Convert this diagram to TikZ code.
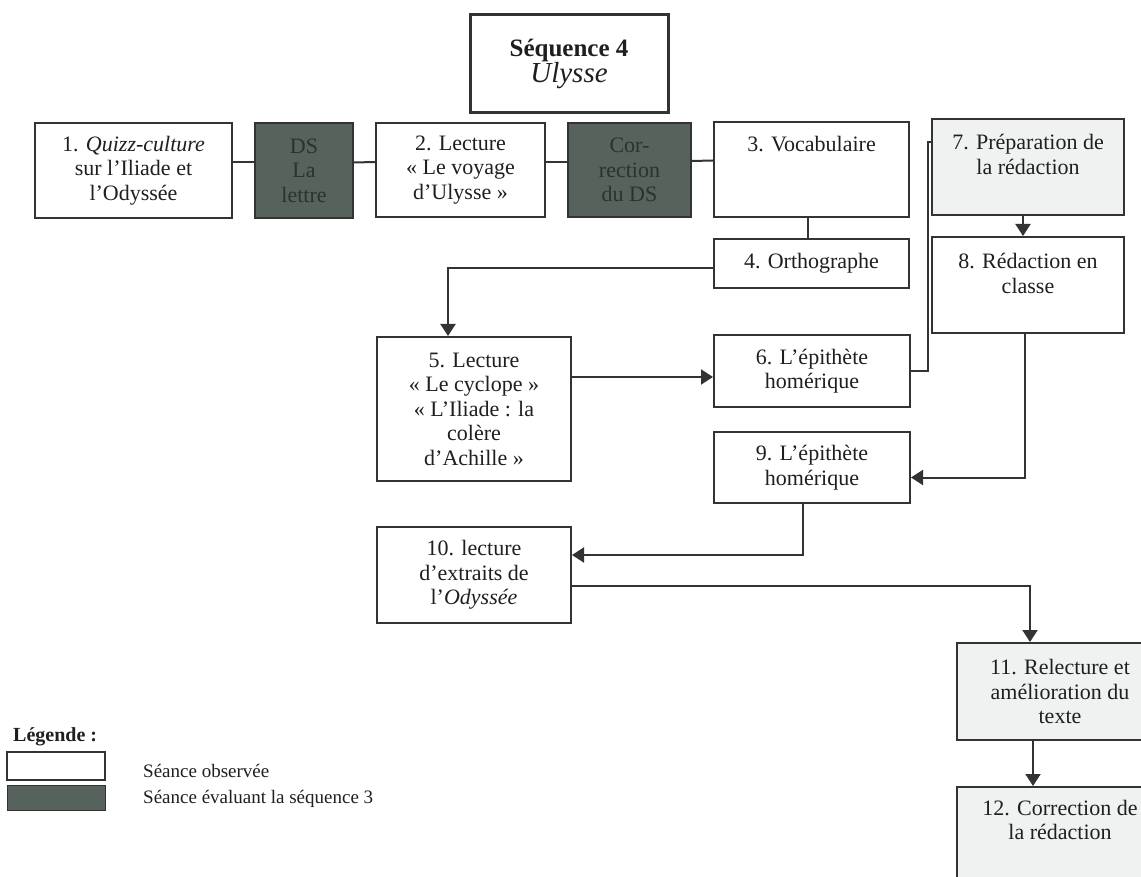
\documentclass[tikz,border=0pt]{standalone}
\usepackage{fontspec}
\setmainfont{Liberation Serif}
\usetikzlibrary{arrows.meta,calc}

\definecolor{ink}{HTML}{1F1F1F}
\definecolor{linec}{HTML}{333333}
\definecolor{evalfill}{HTML}{56625B}
\definecolor{evaltext}{HTML}{2A332E}
\definecolor{paleblue}{HTML}{F0F2F1}

\tikzset{
  sbox/.style={draw=linec, line width=2pt, fill=white, inner sep=0pt,
    align=center, text=ink, font=\fontsize{22}{24.5}\selectfont},
  evalbox/.style={sbox, fill=evalfill, text=evaltext},
  palebox/.style={sbox, fill=paleblue},
  link/.style={draw=linec, line width=2pt},
  arrowlink/.style={link, -{Triangle[length=12pt,width=15pt]}},
  legtext/.style={anchor=west, inner sep=0pt, text=ink, font=\fontsize{19}{22}\selectfont},
}

\begin{document}
\begin{tikzpicture}[x=1pt, y=-1pt]
\useasboundingbox (0,0) rectangle (1141,877);
\clip (0,0) rectangle (1141,877);
\fill[white] (0,0) rectangle (1141,877);

% title
\node[sbox, line width=3pt, minimum width=198pt, minimum height=98pt] (title) at (569,64)
  {{\fontsize{25}{31}\selectfont\bfseries Séquence 4}\\{\fontsize{29}{33}\selectfont\itshape Ulysse}};

% first row
\node[sbox, minimum width=197pt, minimum height=95pt] (b1) at (133.5,170.5)
  {1. \textit{Quizz-culture}\\sur l’Iliade et\\l’Odyssée};
\node[evalbox, minimum width=98pt, minimum height=95pt] (ds) at (304,170.5)
  {DS\\La\\lettre};
\node[sbox, minimum width=169pt, minimum height=94pt] (b2) at (460.5,170)
  {2. Lecture\\« Le voyage\\d’Ulysse »};
\node[evalbox, minimum width=123pt, minimum height=94pt] (cor) at (629.5,170)
  {Cor-\\rection\\du DS};
\node[sbox, minimum width=195pt, minimum height=95pt, text height=30pt, text depth=65pt] (b3) at (811.5,169.5)
  {3. Vocabulaire};
\node[sbox, minimum width=195pt, minimum height=49pt] (b4) at (811.5,263.5)
  {4. Orthographe};

% right column
\node[palebox, minimum width=192pt, minimum height=96pt, text height=55.5pt, text depth=40.5pt] (b7) at (1028,167)
  {7. Préparation de\\la rédaction};
\node[sbox, minimum width=192pt, minimum height=96pt, text height=56.5pt, text depth=39.5pt] (b8) at (1028,285)
  {8. Rédaction en\\classe};

% middle
\node[sbox, minimum width=194pt, minimum height=144pt] (b5) at (474,409)
  {5. Lecture\\« Le cyclope »\\« L’Iliade : la\\colère\\d’Achille »};
\node[sbox, minimum width=196pt, minimum height=72pt] (b6) at (812,371)
  {6. L’épithète\\homérique};
\node[sbox, minimum width=196pt, minimum height=71pt] (b9) at (812,467.5)
  {9. L’épithète\\homérique};
\node[sbox, minimum width=194pt, minimum height=96pt] (b10) at (474,575)
  {10. lecture\\d’extraits de\\l’\textit{Odyssée}};

% bottom right
\node[palebox, minimum width=206pt, minimum height=97pt] (b11) at (1060,691.5)
  {11. Relecture et\\amélioration du\\texte};
\node[palebox, minimum width=206pt, minimum height=133pt, text height=52.5pt, text depth=80.5pt] (b12) at (1060,853.5)
  {12. Correction de\\la rédaction};

% connectors of the first row
\draw[link] ([yshift=8pt]b1.east) -- ([yshift=8pt]ds.west);
\draw[link] ([yshift=8pt]ds.west -| ds.east) -- ([yshift=8pt]b2.west);
\draw[link] ([yshift=8pt]b2.east) -- ([yshift=8pt]cor.west);
\draw[link] ([yshift=9pt]cor.east) -- ([yshift=9pt]b3.west);
\draw[link] ([xshift=-4pt]b3.south) -- ([xshift=-4pt]b4.north);

% flow between sessions
\draw[arrowlink] ($(b4.west)+(0,5)$) -| ([xshift=-26pt]b5.north);
\draw[arrowlink] ($(b6.west -| b5.east)+(0,6)$) -- ($(b6.west)+(0,6)$);
\draw[link] (b6.east) -- ++(17,0) |- ($(b7.west)+(0,-25)$);
\draw[arrowlink] ([xshift=-5pt]b7.south) -- ([xshift=-5pt]b8.north);
\draw[arrowlink] ([xshift=-3pt]b8.south) |- ($(b9.east)+(0,10)$);
\draw[arrowlink] ([xshift=-9pt]b9.south) |- ($(b10.east)+(0,-20)$);
\draw[arrowlink] ($(b10.east)+(0,11)$) -| ([xshift=-30pt]b11.north);
\draw[arrowlink] ([xshift=-27pt]b11.south) -- ([xshift=-27pt]b12.north);

% legend
\node[anchor=west, inner sep=0pt, text=ink, font=\fontsize{20}{22}\selectfont\bfseries] (legtitle) at (13,737) {Légende :};
\node[draw=linec, line width=1.5pt, fill=white, minimum width=98pt, minimum height=28pt, inner sep=0pt] (legwhite) at (56,766) {};
\node[draw=linec, line width=1pt, fill=evalfill, minimum width=98pt, minimum height=25pt, inner sep=0pt] (legdark) at (56,797.5) {};
\node[legtext] (legwhitetext) at (143,771) {Séance observée};
\node[legtext] (legdarktext) at (143,799) {Séance évaluant la séquence 3};
\end{tikzpicture}
\end{document}
